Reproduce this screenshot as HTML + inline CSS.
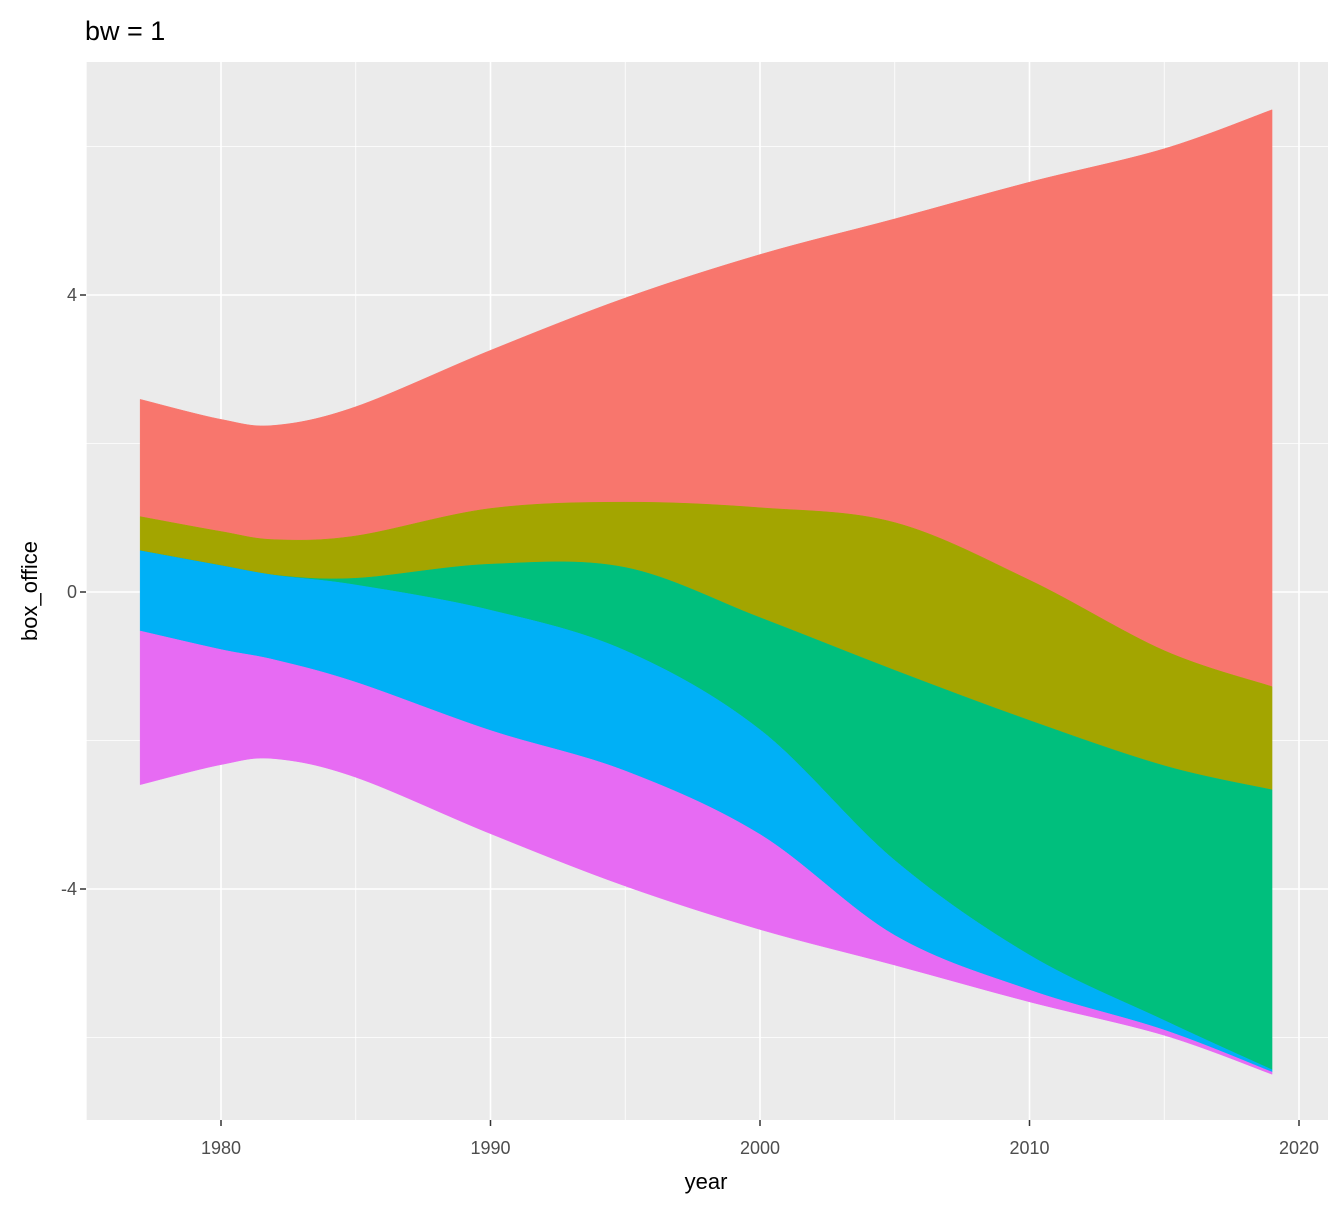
<!DOCTYPE html>
<html><head><meta charset="utf-8"><style>
body{margin:0;background:#fff;}
svg{display:block;font-family:"Liberation Sans",Arial,sans-serif;}
</style></head><body>
<svg id="chart" width="1344" height="1209">
<rect x="0" y="0" width="1344" height="1209" fill="#fff"/>
<rect x="86" y="62" width="1242" height="1058" fill="#ebebeb"/>
<g id="grid"></g>
<g id="streams"></g>
<g id="axes"></g>
<text x="85" y="40" font-size="27" fill="#000">bw = 1</text>
<text x="706" y="1189" font-size="22" text-anchor="middle" fill="#000">year</text>
<text transform="translate(37,591) rotate(-90)" font-size="22" text-anchor="middle" fill="#000">box_office</text>
</svg>
<script>
const years = [1977,1980,1982,1985,1990,1995,2000,2005,2010,2015,2019];
const seriesNames = ["red","olive","green","blue","pink"];
const redVals   = [1.58,1.51,1.54,1.74,2.13,2.75,3.41,4.09,5.36,6.76,7.77];
const oliveVals = [0.46,0.46,0.48,0.57,0.75,0.88,1.48,1.99,1.89,1.55,1.39];
const greenVals = [0,0,0,0.09,0.62,1.12,1.51,2.56,3.16,3.43,3.77];
const blueVals  = [1.08,1.13,1.14,1.31,1.62,1.62,1.41,1.01,0.47,0.13,0.03];
const pinkVals  = [2.07,1.55,1.33,1.28,1.39,1.55,1.28,0.40,0.16,0.07,0.03];
const colors = ["#F8766D","#A3A500","#00BF7D","#00B0F6","#E76BF3"];
const xTicks = [1980,1990,2000,2010,2020];
const xMinor = [1975,1985,1995,2005,2015];
const yTicks = [4,0,-4];
const yMinor = [6,2,-2,-6];

const NS="http://www.w3.org/2000/svg";
const xs = y => 221 + (y-1980)*26.95;
const ys = v => 592 - v*74.25;
function mk(tag, attrs, parent){const e=document.createElementNS(NS,tag);for(const k in attrs)e.setAttribute(k,attrs[k]);parent.appendChild(e);return e;}
const grid=document.getElementById('grid'), axes=document.getElementById('axes'), streams=document.getElementById('streams');
xMinor.forEach(t=>{const l=mk('line',{x1:xs(t),x2:xs(t),y1:62,y2:1120,stroke:'#fff','stroke-width':0.8},grid);
});
yMinor.forEach(t=>{const l=mk('line',{x1:86,x2:1328,y1:ys(t),y2:ys(t),stroke:'#fff','stroke-width':0.8},grid);
});
xTicks.forEach(t=>{const l=mk('line',{x1:xs(t),x2:xs(t),y1:62,y2:1120,stroke:'#fff','stroke-width':1.6},grid);

const tk=mk('line',{x1:xs(t),x2:xs(t),y1:1120,y2:1126,stroke:'#333','stroke-width':1.5},axes);

const tx=mk('text',{x:xs(t),y:1154,'font-size':18,'text-anchor':'middle',fill:'#4d4d4d'},axes);tx.textContent=t;
});
yTicks.forEach(t=>{const l=mk('line',{x1:86,x2:1328,y1:ys(t),y2:ys(t),stroke:'#fff','stroke-width':1.6},grid);

const tk=mk('line',{x1:80,x2:86,y1:ys(t),y2:ys(t),stroke:'#333','stroke-width':1.5},axes);

const tx=mk('text',{x:77,y:ys(t)+6,'font-size':18,'text-anchor':'end',fill:'#4d4d4d'},axes);tx.textContent=t;
});

const all=[redVals,oliveVals,greenVals,blueVals,pinkVals];
// boundaries: top at total/2, stacking downward
const bounds=[];
const totals=years.map((_,i)=>all.reduce((s,a)=>s+a[i],0));
let cur=totals.map(t=>t/2);
bounds.push(cur.slice());
all.forEach(a=>{cur=cur.map((c,i)=>c-a[i]);bounds.push(cur.slice());});
function curve(pts){ // catmull-rom to bezier
  let d='';
  for(let i=0;i<pts.length-1;i++){
    const p0=pts[Math.max(i-1,0)],p1=pts[i],p2=pts[i+1],p3=pts[Math.min(i+2,pts.length-1)];
    const c1=[p1[0]+(p2[0]-p0[0])/6,p1[1]+(p2[1]-p0[1])/6];
    const c2=[p2[0]-(p3[0]-p1[0])/6,p2[1]-(p3[1]-p1[1])/6];
    d+=` C${c1[0]},${c1[1]} ${c2[0]},${c2[1]} ${p2[0]},${p2[1]}`;
  }
  return d;
}
all.forEach((a,k)=>{
  const top=years.map((y,i)=>[xs(y),ys(bounds[k][i])]);
  const bot=years.map((y,i)=>[xs(y),ys(bounds[k+1][i])]).reverse();
  const d=`M${top[0][0]},${top[0][1]}`+curve(top)+` L${bot[0][0]},${bot[0][1]}`+curve(bot)+'Z';
  const p=mk('path',{d:d,fill:colors[k],stroke:colors[k],'stroke-width':0.5},streams);
  
  
});
</script>
</body></html>
